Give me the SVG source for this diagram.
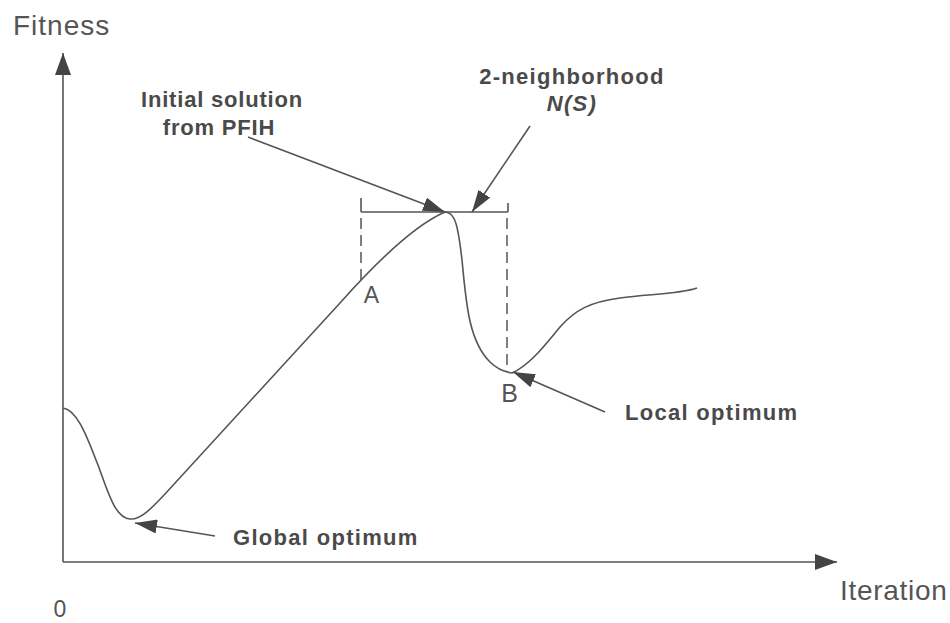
<svg xmlns="http://www.w3.org/2000/svg" width="950" height="623" viewBox="0 0 950 623">
<style>
.ax{fill:#555;font-family:"Liberation Sans",Arial,sans-serif;font-size:28px}
.lb{fill:#4a4a4a;font-family:"Liberation Sans",Arial,sans-serif;font-size:22px;font-weight:bold;letter-spacing:1.3px}
.ln{fill:none;stroke:#555;stroke-width:1.6}
.ds{fill:none;stroke:#555;stroke-width:1.5;stroke-dasharray:11,6}
</style>
<defs>
<marker id="ah" markerUnits="userSpaceOnUse" markerWidth="22" markerHeight="14" refX="22" refY="7" orient="auto"><path d="M0,0 L22,7 L0,14 z" fill="#444"/></marker>
<marker id="axh" markerUnits="userSpaceOnUse" markerWidth="22" markerHeight="16" refX="22" refY="8" orient="auto"><path d="M0,0 L22,8 L0,16 z" fill="#444"/></marker>
</defs>
<rect width="950" height="623" fill="#fff"/>
<g id="axes">
<line class="ln" x1="63" y1="562" x2="63" y2="53" marker-end="url(#axh)"/>
<line class="ln" x1="63" y1="562" x2="837" y2="562" marker-end="url(#axh)"/>
<text class="ax" x="13" y="35" style="letter-spacing:1px">Fitness</text>
<text class="ax" x="840" y="600" style="letter-spacing:0.7px">Iteration</text>
<text class="ax" x="60" y="617" text-anchor="middle" style="font-size:23px">0</text>
</g>
<g id="curve">
<path class="ln" d="M63,408 C78,410 88,440 98,465 C108,492 115,518 130,519 C140,520 150,510 165,494 L340,303 C380,258 415,225 445,212 C455,212 458,225 462,260 C466,300 468,340 490,362 C498,370 505,372 512,373 C530,365 545,345 560,327 C575,310 590,302 620,298 C650,294 680,294 697,288"/>
</g>
<g id="neighborhood">
<line class="ln" x1="361" y1="212" x2="508" y2="212"/>
<line class="ln" x1="361" y1="198" x2="361" y2="212"/>
<line class="ln" x1="508" y1="203" x2="508" y2="212"/>
<line class="ds" x1="361" y1="218" x2="361" y2="280"/>
<line class="ds" x1="507" y1="218" x2="507" y2="370"/>
</g>
<g id="pointA"><text class="ax" x="371.5" y="303" text-anchor="middle" style="font-size:23px">A</text></g>
<g id="pointB"><text class="ax" x="509.5" y="402" text-anchor="middle" style="font-size:25px">B</text></g>
<g id="connectors">
<line class="ln" x1="248" y1="137" x2="445" y2="212" marker-end="url(#ah)"/>
<line class="ln" x1="530" y1="126" x2="472" y2="212" marker-end="url(#ah)"/>
<line class="ln" x1="605" y1="412" x2="513" y2="372" marker-end="url(#ah)"/>
<line class="ln" x1="215" y1="536" x2="135" y2="523" marker-end="url(#ah)"/>
</g>
<g id="label-initial">
<text class="lb" x="222" y="107" text-anchor="middle" style="letter-spacing:0.8px">Initial solution</text>
<text class="lb" x="219" y="135" text-anchor="middle" style="letter-spacing:0.8px">from PFIH</text>
</g>
<g id="label-neighborhood">
<text class="lb" x="572" y="84" text-anchor="middle">2-neighborhood</text>
<text class="lb" x="572" y="111" text-anchor="middle" style="font-style:italic">N(S)</text>
</g>
<g id="label-local"><text class="lb" x="625" y="420">Local optimum</text></g>
<g id="label-global"><text class="lb" x="233" y="545">Global optimum</text></g>
</svg>
